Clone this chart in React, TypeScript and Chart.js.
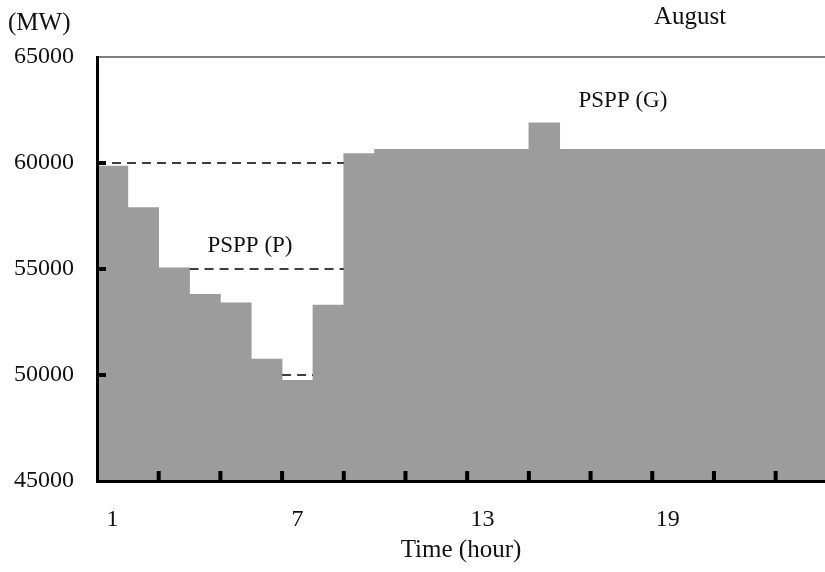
import React, { useEffect, useRef } from 'react';
import { Chart, registerables } from 'chart.js';

Chart.register(...registerables);

// ---- data ----
const hours = [1, 2, 3, 4, 5, 6, 7, 8, 9, 10, 11, 12, 13, 14, 15, 16, 17, 18, 19, 20, 21, 22, 23, 24];
const loadMW = [
  59850, 57900, 55050, 53800, 53400, 50750, 49750, 53300,
  60450, 60650, 60650, 60650, 60650, 60650, 61900, 60650,
  60650, 60650, 60650, 60650, 60650, 60650, 60650, 60650,
];
// dashed reference levels (start hour edge, end hour edge, level)
const dashStart = [0.5, 3.5, 6.5];
const dashEnd = [8.5, 8.5, 7.5];
const dashLevel = [60000, 55000, 50000];

const xTickLabels = [1, 7, 13, 19];
const xMinorTicks = [2.5, 4.5, 6.5, 8.5, 10.5, 12.5, 14.5, 16.5, 18.5, 20.5, 22.5];
const yTickValues = [45000, 50000, 55000, 60000, 65000];
const yInnerTicks = [50000, 55000, 60000];

const annoText = ['PSPP (P)', 'PSPP (G)'];
const annoX = [5.46, 17.55];
const annoY = [56100, 62950];

const FONT = "'Liberation Serif', 'Times New Roman', serif";

const decor = {
  id: 'decor',
  afterDatasetsDraw(chart: any) {
    const { ctx, chartArea, scales } = chart;
    const xs = scales.x;
    const ys = scales.y;
    ctx.save();
    ctx.fillStyle = '#000';
    xMinorTicks.forEach((v) => {
      const px = xs.getPixelForValue(v);
      if (px < chartArea.right) ctx.fillRect(px - 2, chartArea.bottom - 10, 4, 10);
    });
    yInnerTicks.forEach((v) => {
      const py = ys.getPixelForValue(v);
      ctx.fillRect(chartArea.left, py - 2, 9, 4);
    });
    // top frame line
    ctx.strokeStyle = '#000';
    ctx.lineWidth = 1.2;
    ctx.beginPath();
    ctx.moveTo(chartArea.left, chartArea.top);
    ctx.lineTo(chartArea.right, chartArea.top);
    ctx.stroke();
    ctx.restore();
  },
  afterDraw(chart: any) {
    const { ctx, chartArea, scales } = chart;
    ctx.save();
    ctx.fillStyle = '#111';
    ctx.textBaseline = 'middle';
    ctx.font = `25px ${FONT}`;
    ctx.textAlign = 'left';
    ctx.fillText('(MW)', 8, chartArea.top - 34);
    ctx.textAlign = 'center';
    ctx.fillText('August', chartArea.right - 135, chartArea.top - 40);
    ctx.font = `23px ${FONT}`;
    annoText.forEach((t, i) => {
      ctx.fillText(t, scales.x.getPixelForValue(annoX[i]), scales.y.getPixelForValue(annoY[i]));
    });
    ctx.restore();
  },
};

export default function App() {
  const ref = useRef<HTMLCanvasElement | null>(null);

  useEffect(() => {
    document.body.style.margin = '0';
    const canvas = ref.current;
    if (!canvas) return;

    const barData = hours.map((h, i) => ({ x: h, y: loadMW[i] }));
    const lineSets = dashLevel.map((lvl, i) => ({
      type: 'line' as const,
      data: [
        { x: dashStart[i], y: lvl },
        { x: dashEnd[i], y: lvl },
      ],
      borderColor: '#000',
      borderWidth: 1.5,
      borderDash: [9, 6],
      pointRadius: 0,
      fill: false,
      order: 0,
    }));

    const chart = new Chart(canvas, {
      type: 'bar',
      data: {
        datasets: [
          ...lineSets,
          {
            type: 'bar' as const,
            data: barData,
            backgroundColor: '#9c9c9c',
            borderWidth: 0,
            barPercentage: 1,
            categoryPercentage: 1,
            order: 1,
          },
        ] as any,
      },
      options: {
        responsive: false,
        animation: false,
        devicePixelRatio: 1,
        layout: { padding: { top: 57, left: 0, right: 0, bottom: 0 } },
        plugins: { legend: { display: false }, tooltip: { enabled: false } },
        scales: {
          x: {
            type: 'linear',
            min: 0.5,
            max: 24.1,
            offset: false,
            grid: { display: false, drawTicks: false, offset: false },
            border: { display: true, color: '#000', width: 3, z: 1 },
            afterBuildTicks: (s: any) => {
              s.ticks = xTickLabels.map((v) => ({ value: v }));
            },
            afterFit: (s: any) => {
              s.height = 91;
            },
            ticks: {
              padding: 24,
              color: '#111',
              font: { family: FONT, size: 24 },
              callback: (v: any) => String(v),
              maxRotation: 0,
              autoSkip: false,
            },
            title: {
              display: true,
              text: 'Time (hour)',
              color: '#111',
              font: { family: FONT, size: 25 },
              padding: { top: 0, bottom: 7 },
            },
          },
          y: {
            type: 'linear',
            min: 45000,
            max: 65000,
            grid: { display: false, drawTicks: false },
            border: { display: true, color: '#000', width: 3, z: 1 },
            afterBuildTicks: (s: any) => {
              s.ticks = yTickValues.map((v) => ({ value: v }));
            },
            afterFit: (s: any) => {
              s.width = 97;
            },
            ticks: {
              padding: 23,
              color: '#111',
              font: { family: FONT, size: 24 },
              callback: (v: any) => String(v),
            },
          },
        },
      } as any,
      plugins: [decor],
    });

    return () => chart.destroy();
  }, []);

  return (
    <div style={{ width: 825, height: 572, overflow: 'hidden' }}>
      <canvas ref={ref} width={825} height={572} style={{ display: 'block' }} />
    </div>
  );
}
